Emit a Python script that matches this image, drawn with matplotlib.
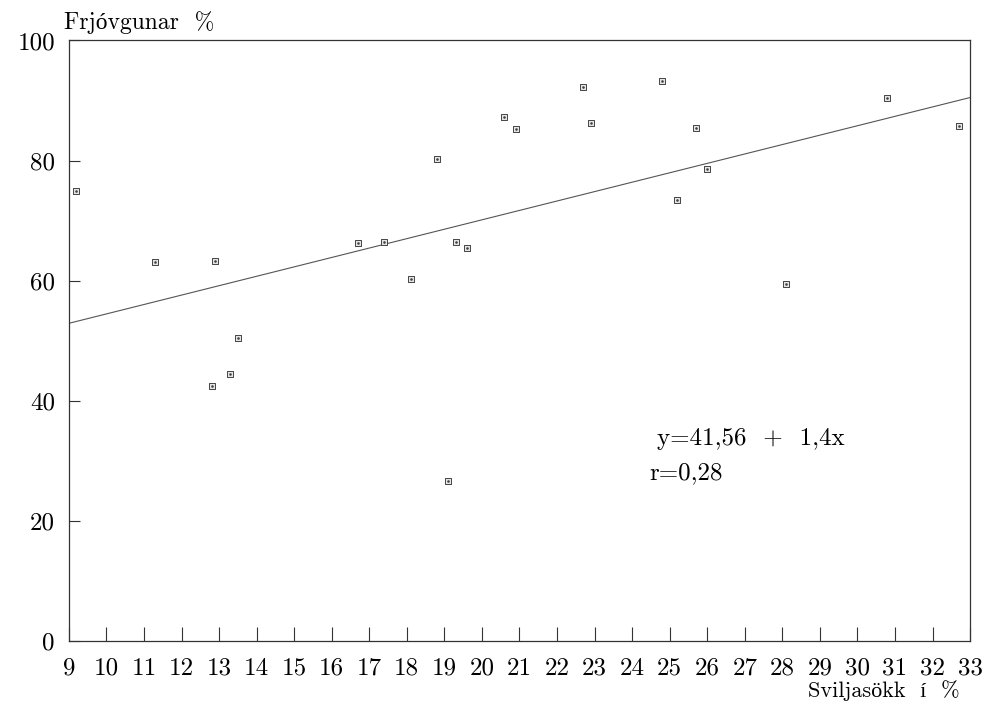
import matplotlib as mpl
mpl.use('Agg')
import matplotlib.pyplot as plt

# values
sviljasokk = [9.2, 11.3, 12.9, 13.5, 12.8, 13.3, 16.7, 17.4, 18.1, 18.8,
              19.3, 19.6, 19.1, 20.6, 20.9, 22.7, 22.9, 24.8, 25.2, 25.7,
              26.0, 28.1, 30.8, 32.7]
frjovgun = [74.9, 63.1, 63.3, 50.4, 42.4, 44.4, 66.3, 66.4, 60.3, 80.3,
            66.4, 65.5, 26.6, 87.3, 85.3, 92.3, 86.3, 93.3, 73.4, 85.5,
            78.6, 59.5, 90.5, 85.7]

line_x = [9, 33]
line_y = [52.9, 90.5]

xticks = list(range(9, 34))
yticks = [0, 20, 40, 60, 80, 100]

plt.rcParams['font.family'] = ['cmr10', 'Liberation Serif']
plt.rcParams['axes.formatter.use_mathtext'] = True

fig = plt.figure(figsize=(9.98, 7.04), dpi=100)
ax = fig.add_axes([0.069, 0.0895, 0.903, 0.853])

ax.plot(line_x, line_y, '-', color='#555555', lw=0.8)
ax.scatter(sviljasokk, frjovgun, marker='s', s=22, facecolor='#e6e6e6',
           edgecolor='#444444', linewidths=0.7, zorder=3)
ax.scatter(sviljasokk, frjovgun, marker='.', s=3, color='#444444', zorder=4)

ax.set_xlim(9, 33)
ax.set_ylim(0, 100)
ax.set_xticks(xticks)
ax.set_xticklabels([str(v) for v in xticks])
ax.set_yticks(yticks)
ax.set_yticklabels([str(v) for v in yticks])
ax.tick_params(axis='x', direction='in', length=10, width=0.8, pad=12,
               labelsize=18, color='#333333')
ax.tick_params(axis='y', direction='in', length=8, width=0.8, pad=10,
               labelsize=18, color='#333333')
for s in ax.spines.values():
    s.set_color('#333333')
    s.set_linewidth(0.9)

fig.text(0.064, 0.968, 'Frjóvgunar  %', fontsize=17, ha='left', va='center')
fig.text(0.962, 0.004, 'Sviljasökk  í  %', fontsize=16, ha='right', va='bottom')

ax.text(24.65, 33.6, 'y=41,56  +  1,4x', fontsize=18, ha='left', va='center')
ax.text(24.45, 27.9, 'r=0,28', fontsize=18, ha='left', va='center')

fig.savefig('out.png', dpi=100)
